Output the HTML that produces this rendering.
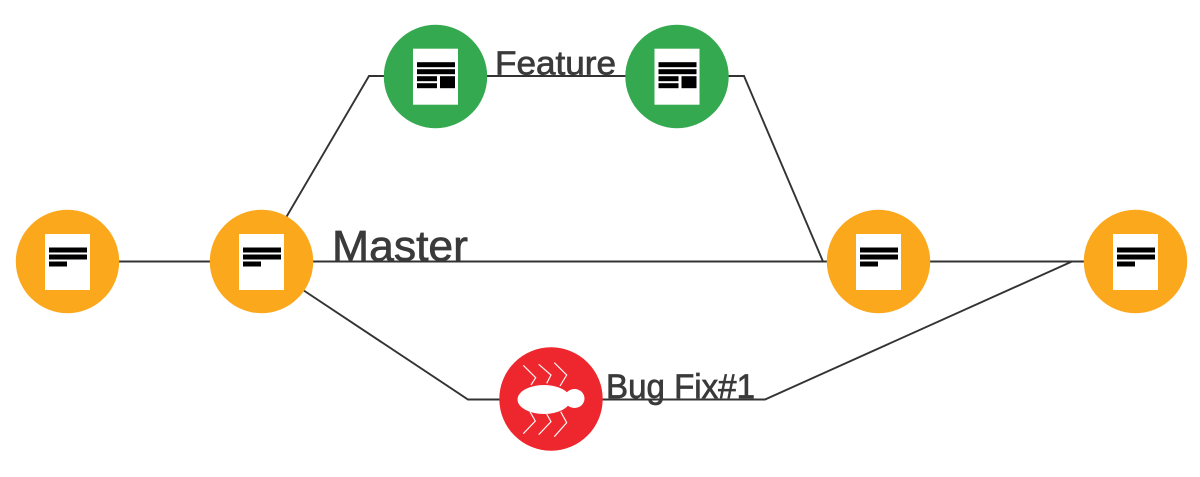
<!DOCTYPE html>
<html>
<head>
<meta charset="utf-8">
<style>
html,body{margin:0;padding:0;background:#fff;width:1200px;height:477px;overflow:hidden}
svg{display:block}
text{font-family:"Liberation Sans",sans-serif;fill:#3a3a3a;stroke:#3a3a3a;stroke-width:.7}
</style>
</head>
<body>
<svg width="1200" height="477" viewBox="0 0 1200 477" xmlns="http://www.w3.org/2000/svg">
<rect width="1200" height="477" fill="#fff"/>
<g fill="none" stroke="#333" stroke-width="1.9">
<path d="M67 261.5H1135"/>
<path d="M284 221L369 76H744L823 261.5"/>
<path d="M300 288L468 399.5H765L1072 261.5"/>
</g>
<g fill="#fba81c">
<circle cx="67.5" cy="261.5" r="51.7"/>
<circle cx="261.5" cy="261.5" r="51.7"/>
<circle cx="878.5" cy="261.5" r="51.7"/>
<circle cx="1135.5" cy="261.5" r="51.7"/>
</g>
<g fill="#35a94f">
<circle cx="435.5" cy="76.5" r="51.7"/>
<circle cx="677" cy="76.5" r="51.7"/>
</g>
<circle cx="551" cy="399" r="51.7" fill="#ed272d"/>

<g id="docs">
<g transform="translate(45,234)"><rect width="45" height="56" fill="#fff"/><rect x="4" y="13.5" width="38" height="5"/><rect x="4" y="20.5" width="38" height="5"/><rect x="4" y="27.5" width="18" height="5"/></g>
<g transform="translate(239,234)"><rect width="45" height="56" fill="#fff"/><rect x="4" y="13.5" width="38" height="5"/><rect x="4" y="20.5" width="38" height="5"/><rect x="4" y="27.5" width="18" height="5"/></g>
<g transform="translate(856,234)"><rect width="45" height="56" fill="#fff"/><rect x="4" y="13.5" width="38" height="5"/><rect x="4" y="20.5" width="38" height="5"/><rect x="4" y="27.5" width="18" height="5"/></g>
<g transform="translate(1113,234)"><rect width="45" height="56" fill="#fff"/><rect x="4" y="13.5" width="38" height="5"/><rect x="4" y="20.5" width="38" height="5"/><rect x="4" y="27.5" width="18" height="5"/></g>
<g transform="translate(413,48.7)"><rect width="45" height="56" fill="#fff"/><rect x="4" y="13.5" width="38" height="5"/><rect x="4" y="20.5" width="38" height="5"/><rect x="4" y="27.5" width="20" height="5"/><rect x="4" y="34.5" width="20" height="5"/><rect x="27" y="27.5" width="15" height="12"/></g>
<g transform="translate(654.5,48.7)"><rect width="45" height="56" fill="#fff"/><rect x="4" y="13.5" width="38" height="5"/><rect x="4" y="20.5" width="38" height="5"/><rect x="4" y="27.5" width="20" height="5"/><rect x="4" y="34.5" width="20" height="5"/><rect x="27" y="27.5" width="15" height="12"/></g>
</g>

<g fill="#fff">
<ellipse cx="544" cy="399.5" rx="26.5" ry="14.5"/>
<ellipse cx="574.5" cy="398.5" rx="10" ry="9.5"/>
</g>
<g fill="none" stroke="#fff" stroke-width="1.2" opacity=".95">
<path d="M523.3 365.3L535.7 377.7L531 385"/>
<path d="M538.7 364.3L551 375L546.7 383.3"/>
<path d="M554.3 362.7L566.7 375L560 386"/>
<path d="M530 411.7L535.3 421L523.3 433.7"/>
<path d="M546.7 414L551 421.7L538.7 434.7"/>
<path d="M560.7 411.7L566.7 422.7L554.3 436.7"/>
</g>

<text x="332" y="260.5" font-size="43" textLength="136" lengthAdjust="spacingAndGlyphs">Master</text>
<text x="495" y="74.5" font-size="33" textLength="121" lengthAdjust="spacingAndGlyphs">Feature</text>
<text x="606" y="398" font-size="34" textLength="149" lengthAdjust="spacingAndGlyphs">Bug Fix#1</text>
</svg>
</body>
</html>
